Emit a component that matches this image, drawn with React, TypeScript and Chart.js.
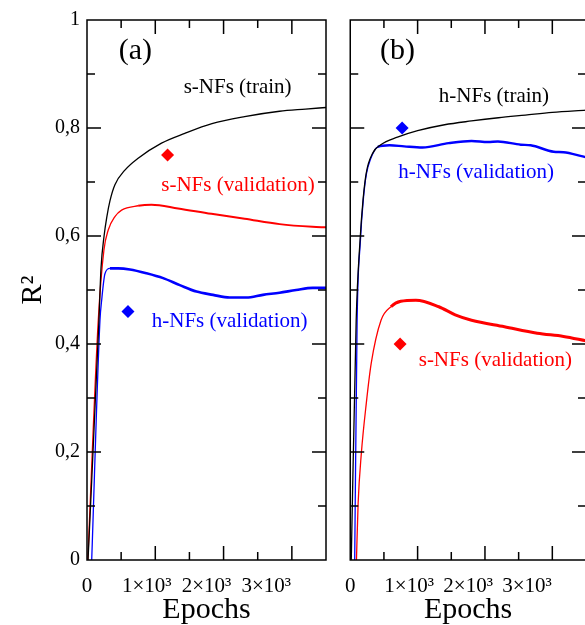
import { useEffect, useRef } from 'react';
import { Chart, registerables } from 'chart.js';
Chart.register(...registerables);

const FONT = '"Liberation Serif", "Times New Roman", serif';
const RED = '#ff0000';
const BLUE = '#0000ff';
const BLACK = '#000000';

// ---------- axis ticks ----------
const X_MIN = 0;
const X_MAX = 3500;
const xTickLabels = ['0', '1×10³', '2×10³', '3×10³'];
const yTickLabels = ['0', '0,2', '0,4', '0,6', '0,8', '1'];

// ---------- panel (a) ----------
const sTrainA_x = [15, 175, 205, 250, 290, 336, 409, 555, 749, 1091, 1432, 1830, 2308, 2820, 3200, 3500];
const sTrainA_y = [0, 0.444, 0.54, 0.6, 0.635, 0.665, 0.695, 0.722, 0.744, 0.772, 0.79, 0.808, 0.821, 0.831, 0.835, 0.838];

const sValA_x = [12, 165, 248, 311, 409, 507, 749, 945, 1334, 1822, 2308, 2820, 3302, 3500];
const sValA_y = [0, 0.444, 0.574, 0.611, 0.636, 0.648, 0.656, 0.658, 0.651, 0.641, 0.632, 0.622, 0.617, 0.616];

const hValA_x = [69, 190, 214, 263, 336, 457, 628, 872, 1115, 1359, 1603, 1846, 2089, 2333, 2576, 2820, 3063, 3306, 3500];
const hValA_y = [0, 0.444, 0.48, 0.53, 0.54, 0.54, 0.538, 0.531, 0.522, 0.509, 0.497, 0.491, 0.486, 0.486, 0.491, 0.495, 0.5, 0.504, 0.504];

const sDiamondA = [1180, 0.75];
const hDiamondA = [600, 0.46];

// ---------- panel (b) ----------
const hTrainB_x = [15, 88, 146, 190, 238, 336, 453, 701, 1000, 1400, 1800, 2200, 2600, 3000, 3500];
const hTrainB_y = [0, 0.444, 0.593, 0.667, 0.717, 0.754, 0.769, 0.783, 0.795, 0.806, 0.813, 0.819, 0.824, 0.829, 0.833];

const hValB_x = [66, 102, 150, 192, 240, 300, 409, 584, 800, 1071, 1461, 1801, 2045, 2192, 2532, 2678, 3020, 3166, 3433, 3500];
const hValB_y = [0, 0.444, 0.59, 0.665, 0.715, 0.742, 0.765, 0.768, 0.766, 0.764, 0.772, 0.776, 0.774, 0.775, 0.769, 0.768, 0.756, 0.755, 0.748, 0.746];

const sValB_x = [92, 117, 165, 238, 311, 457, 604, 750, 974, 1315, 1558, 1801, 2289, 2776, 3166, 3500];
const sValB_y = [0, 0.105, 0.198, 0.29, 0.364, 0.444, 0.469, 0.479, 0.481, 0.469, 0.454, 0.444, 0.432, 0.42, 0.414, 0.406];

const hDiamondB = [770, 0.8];
const sDiamondB = [740, 0.4];

// ---------- annotation labels ----------
const notesA = [
  { text: '(a)', x: 709, y: 0.942, color: BLACK, size: 30 },
  { text: 's-NFs (train)', x: 2206, y: 0.875, color: BLACK, size: 21 },
  { text: 's-NFs (validation)', x: 2211, y: 0.693, color: RED, size: 21 },
  { text: 'h-NFs (validation)', x: 2089, y: 0.441, color: BLUE, size: 21 },
];
const notesB = [
  { text: '(b)', x: 701, y: 0.942, color: BLACK, size: 30 },
  { text: 'h-NFs (train)', x: 2133, y: 0.858, color: BLACK, size: 21 },
  { text: 'h-NFs (validation)', x: 1870, y: 0.717, color: BLUE, size: 21 },
  { text: 's-NFs (validation)', x: 2155, y: 0.369, color: RED, size: 21 },
];

type Note = { text: string; x: number; y: number; color: string; size: number };

const pts = (xs: number[], ys: number[]) => xs.map((x, i) => ({ x, y: ys[i] }));

function lineDs(xs: number[], ys: number[], color: string, width: number, noisyFrom?: number) {
  return {
    type: 'line' as const,
    data: pts(xs, ys),
    borderColor: color,
    backgroundColor: color,
    borderWidth: width,
    pointRadius: 0,
    tension: 0.3,
    cubicInterpolationMode: 'monotone' as const,
    segment: noisyFrom !== undefined
      ? { borderWidth: (c: any) => (c.p0.parsed.x >= noisyFrom ? width : 1.3) }
      : undefined,
  };
}

function diamondDs(p: number[], color: string) {
  return {
    type: 'scatter' as const,
    data: [{ x: p[0], y: p[1] }],
    pointStyle: 'rectRot' as const,
    pointRadius: 6.5,
    pointHoverRadius: 6.5,
    backgroundColor: color,
    borderColor: color,
    borderWidth: 0,
    showLine: false,
  };
}

function overlay(notes: Note[]) {
  return {
    id: 'overlay',
    afterDatasetsDraw(chart: any) {
      const { ctx, chartArea: a, scales } = chart;
      const x = scales.x;
      const y = scales.y;
      ctx.save();
      ctx.strokeStyle = BLACK;
      ctx.lineWidth = 1.5;
      ctx.strokeRect(a.left, a.top, a.right - a.left, a.bottom - a.top);
      ctx.beginPath();
      for (let v = 500; v < X_MAX; v += 500) {
        const px = x.getPixelForValue(v);
        const len = v % 1000 === 0 ? 14 : 8;
        ctx.moveTo(px, a.bottom);
        ctx.lineTo(px, a.bottom - len);
        ctx.moveTo(px, a.top);
        ctx.lineTo(px, a.top + len);
      }
      for (let k = 1; k < 10; k++) {
        const py = y.getPixelForValue(k / 10);
        const len = k % 2 === 0 ? 14 : 8;
        ctx.moveTo(a.left, py);
        ctx.lineTo(a.left + len, py);
        ctx.moveTo(a.right, py);
        ctx.lineTo(a.right - len, py);
      }
      ctx.stroke();
      ctx.textAlign = 'center';
      ctx.textBaseline = 'middle';
      for (const n of notes) {
        ctx.fillStyle = n.color;
        ctx.font = `${n.size}px ${FONT}`;
        ctx.fillText(n.text, x.getPixelForValue(n.x), y.getPixelForValue(n.y));
      }
      ctx.restore();
    },
  };
}

function makeConfig(panel: 'a' | 'b'): any {
  const isA = panel === 'a';
  const datasets = isA
    ? [
        lineDs(sTrainA_x, sTrainA_y, BLACK, 1.3),
        lineDs(sValA_x, sValA_y, RED, 2, 700),
        lineDs(hValA_x, hValA_y, BLUE, 2.6, 300),
        diamondDs(sDiamondA, RED),
        diamondDs(hDiamondA, BLUE),
      ]
    : [
        lineDs(sValB_x, sValB_y, RED, 3, 500),
        lineDs(hTrainB_x, hTrainB_y, BLACK, 1.3),
        lineDs(hValB_x, hValB_y, BLUE, 2.4, 350),
        diamondDs(hDiamondB, BLUE),
        diamondDs(sDiamondB, RED),
      ];
  return {
    type: 'line',
    data: { datasets },
    options: {
      responsive: false,
      animation: false,
      events: [],
      layout: { padding: { left: 0, top: 20, right: isA ? 14 : 10, bottom: 0 } },
      plugins: { legend: { display: false }, tooltip: { enabled: false } },
      scales: {
        x: {
          type: 'linear',
          min: X_MIN,
          max: X_MAX,
          afterFit: (s: any) => { s.height = 65; },
          grid: { display: false, drawTicks: false },
          border: { display: false },
          ticks: {
            stepSize: 1000,
            includeBounds: false,
            autoSkip: false,
            maxRotation: 0,
            padding: 14,
            color: BLACK,
            font: { family: FONT, size: 21 },
            callback: (v: number) => xTickLabels[Math.round(v / 1000)] ?? '',
          },
          title: {
            display: true,
            text: 'Epochs',
            color: BLACK,
            font: { family: FONT, size: 30 },
            padding: { top: 0, bottom: -3 },
          },
        },
        y: {
          type: 'linear',
          min: 0,
          max: 1,
          afterFit: (s: any) => { s.width = isA ? 87 : 10; },
          grid: { display: false, drawTicks: false },
          border: { display: false },
          ticks: {
            display: isA,
            stepSize: 0.2,
            padding: 7,
            color: BLACK,
            font: { family: FONT, size: 20 },
            callback: (v: number) => yTickLabels[Math.round(v / 0.2)] ?? '',
          },
          title: {
            display: isA,
            text: 'R²',
            color: BLACK,
            font: { family: FONT, size: 30 },
            padding: { top: 15, bottom: 0 },
          },
        },
      },
    },
    plugins: [overlay(isA ? notesA : notesB)],
  };
}

export default function App() {
  const refA = useRef<HTMLCanvasElement>(null);
  const refB = useRef<HTMLCanvasElement>(null);
  useEffect(() => {
    const a = new Chart(refA.current as HTMLCanvasElement, makeConfig('a'));
    const b = new Chart(refB.current as HTMLCanvasElement, makeConfig('b'));
    return () => {
      a.destroy();
      b.destroy();
    };
  }, []);
  return (
    <div style={{ position: 'fixed', left: 0, top: 0, width: 585, height: 625, overflow: 'hidden', background: '#fff' }}>
      <canvas ref={refA} width={340} height={625} style={{ position: 'absolute', left: 0, top: 0, width: 340, height: 625 }} />
      <canvas ref={refB} width={269} height={625} style={{ position: 'absolute', left: 331, top: 0, width: 269, height: 625 }} />
    </div>
  );
}
